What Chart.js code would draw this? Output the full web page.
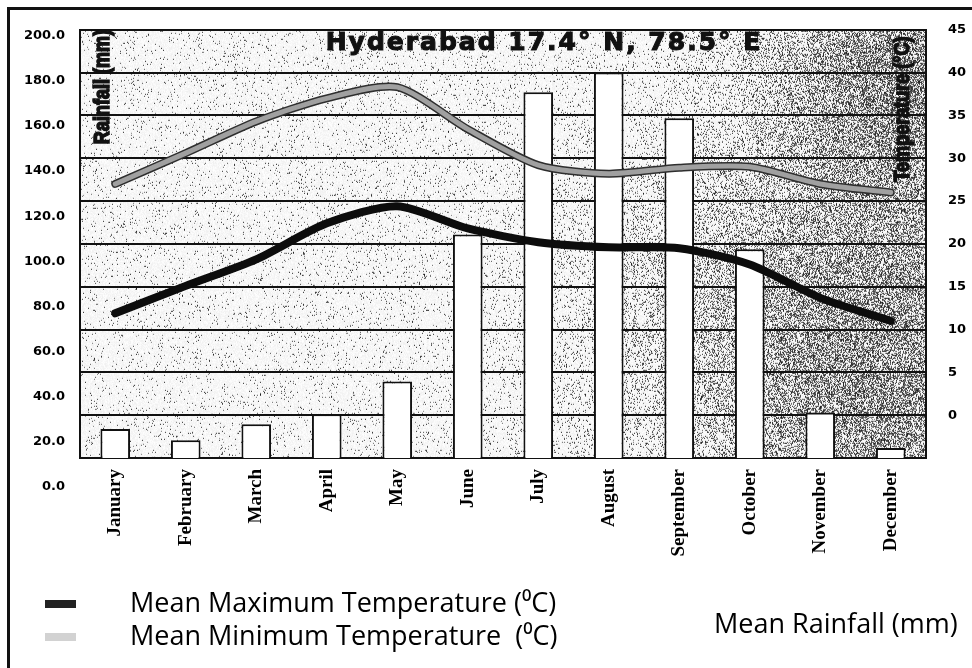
<!DOCTYPE html>
<html>
<head>
<meta charset="utf-8">
<script src="https://cdn.jsdelivr.net/npm/chart.js@4.4.1/dist/chart.umd.min.js"></script>
<style>
html,body{margin:0;padding:0;background:#fff;}
#wrap{width:972px;height:668px;position:relative;}
</style>
</head>
<body>
<div id="wrap"><canvas id="c" width="972" height="668"></canvas></div>
<script>
// ---- data ----
const months = ['January','February','March','April','May','June','July','August','September','October','November','December'];
const rainfall = [25.6, 20.7, 27.8, 32.2, 46.7, 111.9, 174.9, 183.7, 163.4, 105.3, 33.0, 17.2];
const maxTemp = [11.9, 15.1, 18.2, 22.4, 24.4, 21.8, 20.2, 19.6, 19.5, 17.6, 13.7, 11.0];
const minTemp = [27.0, 30.6, 34.3, 37.0, 38.3, 33.4, 29.2, 28.2, 28.9, 29.0, 27.0, 26.0];
const rainTicks = [0, 20, 40, 60, 80, 100, 120, 140, 160, 180, 200];
const tempTicks = [0, 5, 10, 15, 20, 25, 30, 35, 40, 45];
const chartTitle = 'Hyderabad 17.4° N, 78.5° E';
const rainAxisTitle = 'Rainfall (mm)';
const tempAxisTitle = 'Temperature (°C)';
const seriesLabels = ['Mean Maximum Temperature (⁰C)', 'Mean Minimum Temperature  (⁰C)', 'Mean Rainfall (mm)'];

// ---- deterministic scan-like texture for the plot area ----
let textureCanvas = null;
function makeTexture(w, h) {
  const cv = document.createElement('canvas');
  cv.width = w; cv.height = h;
  const g = cv.getContext('2d');
  const img = g.createImageData(w, h);
  let s = 987654321;
  const rnd = () => { s = (Math.imul(s, 1664525) + 1013904223) >>> 0; return s / 4294967296; };
  const ramp = t => t <= 0 ? 0 : t >= 1 ? 1 : t * t * (3 - 2 * t);
  for (let y = 0; y < h; y++) {
    for (let x = 0; x < w; x++) {
      let d = 0.04 + 0.03 * (x / w);
      d += 0.22 * ramp((x - 540) / 300);
      d += 0.28 * Math.exp(-((x - 770) ** 2 + (y - 340) ** 2) / (2 * 120 * 120));
      d += 0.30 * Math.exp(-((x - 810) ** 2 + (y - 50) ** 2) / (2 * 70 * 70));
      d += 0.10 * Math.exp(-((x - 600) ** 2 + (y - 260) ** 2) / (2 * 90 * 90));
      const r = rnd();
      let v;
      if (r < d) v = 25 + rnd() * 110;
      else v = 240 + rnd() * 15;
      const i = (y * w + x) * 4;
      img.data[i] = img.data[i + 1] = img.data[i + 2] = v;
      img.data[i + 3] = 255;
    }
  }
  g.putImageData(img, 0, 0);
  return cv;
}

const backgroundPlugin = {
  id: 'scanBackground',
  beforeDraw(chart) {
    const ctx = chart.ctx;
    const a = chart.chartArea;
    ctx.save();
    ctx.fillStyle = '#fff';
    ctx.fillRect(0, 0, chart.width, chart.height);
    const w = Math.round(a.right - a.left), h = Math.round(a.bottom - a.top);
    if (!textureCanvas) textureCanvas = makeTexture(w, h);
    ctx.drawImage(textureCanvas, a.left, a.top);
    // outer frame
    ctx.strokeStyle = '#111';
    ctx.lineWidth = 3;
    ctx.beginPath();
    ctx.moveTo(8.5, chart.height);
    ctx.lineTo(8.5, 8.5);
    ctx.lineTo(chart.width, 8.5);
    ctx.stroke();
    ctx.restore();
  }
};

const outlinePlugin = {
  id: 'lineOutline',
  beforeDatasetDraw(chart, args) {
    const ds = chart.data.datasets[args.index];
    if (!ds.outlineColor) return;
    const el = args.meta.dataset;
    if (!el) return;
    const clone = Object.create(el);
    clone.options = Object.assign({}, el.options, { borderColor: ds.outlineColor, borderWidth: el.options.borderWidth + 3 });
    clone._path = undefined;
    const ctx = chart.ctx;
    ctx.save();
    clone.draw(ctx, chart.chartArea);
    ctx.restore();
  }
};

function narrowText(ctx, text, cx, cy, squeeze) {
  ctx.save();
  ctx.translate(cx, cy);
  ctx.rotate(-Math.PI / 2);
  ctx.scale(squeeze, 1);
  ctx.fillText(text, 0, 0);
  ctx.lineWidth = 1.6;
  ctx.strokeText(text, 0, 0);
  ctx.restore();
}

const textPlugin = {
  id: 'insideTexts',
  afterDatasetsDraw(chart) {
    const ctx = chart.ctx;
    ctx.save();
    ctx.fillStyle = '#111';
    ctx.strokeStyle = '#111';
    ctx.textAlign = 'center';
    ctx.textBaseline = 'middle';
    ctx.font = 'bold 25px "DejaVu Sans", sans-serif';
    try { ctx.letterSpacing = '2px'; } catch (e) {}
    ctx.lineWidth = 1.1;
    ctx.fillText(chartTitle, 544, 43);
    ctx.strokeText(chartTitle, 544, 43);
    try { ctx.letterSpacing = '0px'; } catch (e) {}
    ctx.font = 'bold 22px "Liberation Sans", Arial, sans-serif';
    narrowText(ctx, rainAxisTitle, 103, 87, 0.82);
    narrowText(ctx, tempAxisTitle, 903, 109, 0.82);
    ctx.restore();
  },
  afterDraw(chart) {
    const ctx = chart.ctx;
    const ds = chart.data.datasets;
    ctx.save();
    ctx.textAlign = 'left';
    ctx.textBaseline = 'middle';
    ctx.font = '27px "Open Sans", "Noto Sans", sans-serif';
    ctx.fillStyle = '#000';
    const items = [
      { ds: ds[0], sx: 45, y: 604, tx: 130, swatch: '#222' },
      { ds: ds[1], sx: 45, y: 637, tx: 130, swatch: '#d2d2d2' },
      { ds: ds[2], sx: null, y: 625, tx: 714, swatch: null }
    ];
    for (const it of items) {
      if (it.swatch) {
        ctx.fillStyle = it.swatch;
        ctx.fillRect(it.sx, it.y - 4, 31, 8);
      }
      ctx.fillStyle = '#000';
      ctx.fillText(it.ds.label, it.tx, it.y);
    }
    ctx.restore();
  }
};

const axisFont = { family: '"DejaVu Sans", sans-serif', weight: 'bold', size: 13 };

new Chart(document.getElementById('c'), {
  data: {
    labels: months,
    datasets: [
      {
        type: 'line',
        label: seriesLabels[0],
        data: maxTemp,
        yAxisID: 'temp',
        borderColor: '#0c0c0c',
        borderWidth: 8,
        tension: 0.25,
        pointRadius: 0,
        borderCapStyle: 'round',
        borderJoinStyle: 'round',
        fill: false,
        order: 0
      },
      {
        type: 'line',
        label: seriesLabels[1],
        data: minTemp,
        yAxisID: 'temp',
        borderColor: '#a0a0a0',
        outlineColor: '#2e2e2e',
        borderWidth: 5,
        tension: 0.25,
        pointRadius: 0,
        borderCapStyle: 'round',
        borderJoinStyle: 'round',
        fill: false,
        order: 1
      },
      {
        type: 'bar',
        label: seriesLabels[2],
        data: rainfall,
        yAxisID: 'rain',
        backgroundColor: '#ffffff',
        borderColor: '#111',
        borderWidth: 2,
        borderSkipped: 'start',
        barPercentage: 0.42,
        categoryPercentage: 1,
        clip: 0,
        order: 2
      }
    ]
  },
  options: {
    responsive: false,
    animation: false,
    devicePixelRatio: 1,
    layout: { padding: { top: 27, left: 0, right: 0, bottom: 0 } },
    plugins: {
      legend: { display: false },
      title: { display: false },
      tooltip: { enabled: false }
    },
    scales: {
      x: {
        type: 'category',
        offset: true,
        grid: { display: false, drawTicks: false },
        border: { display: true, color: '#111', width: 2 },
        ticks: {
          minRotation: 90, maxRotation: 90, autoSkip: false, padding: 11,
          color: '#000',
          font: { family: '"Liberation Serif", "Times New Roman", serif', weight: 'bold', size: 19 }
        },
        afterFit: s => { s.height = 210; }
      },
      rain: {
        type: 'linear',
        position: 'left',
        min: 12.8,
        max: 202.6,
        afterBuildTicks: s => { s.ticks = rainTicks.map(v => ({ value: v })); },
        grid: { display: false, drawTicks: false },
        border: { display: true, color: '#111', width: 2 },
        ticks: {
          autoSkip: false, padding: 15, color: '#000', font: axisFont,
          callback: v => Number(v).toFixed(1)
        },
        afterFit: s => { s.width = 80; }
      },
      temp: {
        type: 'linear',
        position: 'right',
        min: -5,
        max: 45,
        ticks: {
          stepSize: 5, autoSkip: false, padding: 22, color: '#000', font: axisFont,
          callback: v => tempTicks.includes(v) ? String(v) : ''
        },
        grid: { color: '#111', lineWidth: 2, drawTicks: false },
        border: { display: true, color: '#111', width: 2 },
        afterFit: s => { s.width = 46; }
      }
    }
  },
  plugins: [backgroundPlugin, outlinePlugin, textPlugin]
});
</script>
</body>
</html>
